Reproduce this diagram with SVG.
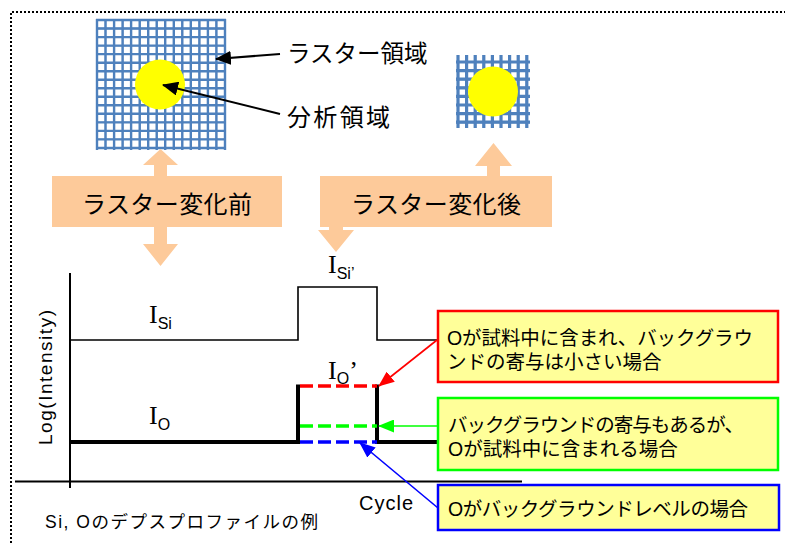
<svg xmlns="http://www.w3.org/2000/svg" width="785" height="543" viewBox="0 0 785 543">
<style>
.jp{font-family:"Liberation Sans","Noto Sans CJK JP",sans-serif;fill:#000}
.lat{font-family:"Liberation Sans",Arial,sans-serif;fill:#000}
.ser{font-family:"Liberation Serif","Times New Roman",serif;fill:#000}
.grid{fill:none;stroke:#4f81bd}
.orange{fill:#fdca9a;stroke:none}
.call{fill:#ffff99;stroke-width:2.5}
.dash{fill:none;stroke-width:3.5;stroke-dasharray:13 5}
</style>
<defs>
<marker id="ah-black" viewBox="0 0 16 14" refX="15" refY="7" markerWidth="16" markerHeight="14" markerUnits="userSpaceOnUse" orient="auto"><path d="M0,0 L16,7 L0,14 Z" fill="#000"/></marker>
<marker id="ah-red" viewBox="0 0 16 13" refX="15" refY="6.5" markerWidth="16" markerHeight="13" markerUnits="userSpaceOnUse" orient="auto"><path d="M0,0 L16,6.5 L0,13 Z" fill="#ff0000"/></marker>
<marker id="ah-green" viewBox="0 0 16 13" refX="15" refY="6.5" markerWidth="16" markerHeight="13" markerUnits="userSpaceOnUse" orient="auto"><path d="M0,0 L16,6.5 L0,13 Z" fill="#00ff00"/></marker>
<marker id="ah-blue" viewBox="0 0 16 13" refX="15" refY="6.5" markerWidth="16" markerHeight="13" markerUnits="userSpaceOnUse" orient="auto"><path d="M0,0 L16,6.5 L0,13 Z" fill="#0000ff"/></marker>
</defs>
<rect width="785" height="543" fill="#fff"/>
<path id="border" d="M11,543 V12 H785" fill="none" stroke="#000" stroke-width="2" stroke-dasharray="2 2"/>

<g id="raster-large">
<path class="grid" stroke-width="2.4" stroke="#dbe5f2" d="M97,19V150M105.5,19V150M114.1,19V150M122.6,19V150M131.1,19V150M139.7,19V150M148.2,19V150M156.7,19V150M165.2,19V150M173.8,19V150M182.3,19V150M190.8,19V150M199.4,19V150M207.9,19V150M216.4,19V150M225,19V150M96,20H226M96,28.5H226M96,37.1H226M96,45.6H226M96,54.1H226M96,62.7H226M96,71.2H226M96,79.7H226M96,88.2H226M96,96.8H226M96,105.3H226M96,113.8H226M96,122.4H226M96,130.9H226M96,139.4H226M96,148H226"/>
<path class="grid" stroke-width="1.3" d="M97,19V150M105.5,19V150M114.1,19V150M122.6,19V150M131.1,19V150M139.7,19V150M148.2,19V150M156.7,19V150M165.2,19V150M173.8,19V150M182.3,19V150M190.8,19V150M199.4,19V150M207.9,19V150M216.4,19V150M225,19V150M96,20H226M96,28.5H226M96,37.1H226M96,45.6H226M96,54.1H226M96,62.7H226M96,71.2H226M96,79.7H226M96,88.2H226M96,96.8H226M96,105.3H226M96,113.8H226M96,122.4H226M96,130.9H226M96,139.4H226M96,148H226"/>
<circle cx="160" cy="84.5" r="25" fill="#ffff00"/>
</g>

<g id="raster-small">
<path class="grid" stroke-width="3.2" stroke="#dbe5f2" d="M458,55V128M466.6,55V128M475.2,55V128M483.8,55V128M492.4,55V128M501,55V128M509.6,55V128M518.2,55V128M526.8,55V128M456,62H530M456,70.6H530M456,79.2H530M456,87.8H530M456,96.4H530M456,105H530M456,113.6H530M456,122.2H530"/>
<path class="grid" stroke-width="1.9" d="M458,55V128M466.6,55V128M475.2,55V128M483.8,55V128M492.4,55V128M501,55V128M509.6,55V128M518.2,55V128M526.8,55V128M456,62H530M456,70.6H530M456,79.2H530M456,87.8H530M456,96.4H530M456,105H530M456,113.6H530M456,122.2H530"/>
<circle cx="493" cy="91.5" r="25" fill="#ffff00"/>
</g>

<g id="label-raster"><text class="jp" x="287" y="62" font-size="23.5">ラスター領域</text></g>
<g id="label-analysis"><text class="jp" x="287" y="126" font-size="24" textLength="103">分析領域</text></g>

<g id="before">
<path class="orange" d="M52,176 H154 V165 H143 L160.5,149 L178,165 H167 V176 H282 V227 H167 V244 H178 L160.5,266 L143,244 H154 V227 H52 Z"/>
<text class="jp" x="167" y="213" font-size="24" text-anchor="middle" textLength="170">ラスター変化前</text>
</g>
<g id="after">
<path class="orange" d="M320,176 H487 V166 H475 L493.5,143 L512,166 H500 V176 H552 V227 H343 V230 H354 L336,252 L318,230 H329 V227 H320 Z"/>
<text class="jp" x="436" y="213" font-size="24" text-anchor="middle" textLength="170">ラスター変化後</text>
</g>

<g id="axes" stroke="#000" fill="none">
<path d="M70,273 V488" stroke-width="2"/>
<path d="M15,481.5 H522" stroke-width="2"/>
<text class="lat" stroke="none" transform="translate(52,445) rotate(-90)" font-size="19" textLength="135">Log(Intensity)</text>
<text class="lat" stroke="none" x="359" y="510" font-size="20" textLength="54">Cycle</text>
<text class="jp" stroke="none" x="45" y="528" font-size="17.5" textLength="273">Si, Oのデプスプロファイルの例</text>
</g>

<g id="si-profile">
<path d="M70,340 H298 V287 H377 V340 H437" fill="none" stroke="#000" stroke-width="1.6"/>
<text class="ser" x="149" y="323" font-size="26">I<tspan class="lat" font-size="16" dy="6">Si</tspan></text>
<text class="ser" x="328" y="273" font-size="26">I<tspan class="lat" font-size="16" dy="6">Si’</tspan></text>
</g>

<g id="o-profile">
<path d="M70,442 H298 V384.5 M377,384.5 V442 H437" fill="none" stroke="#000" stroke-width="4"/>
<path class="dash" d="M300,386 H377" stroke="#ff0000"/>
<path class="dash" d="M300,426 H377" stroke="#00ff00"/>
<path class="dash" d="M300,442 H377" stroke="#0000ff"/>
<text class="ser" x="149" y="424" font-size="26">I<tspan class="lat" font-size="16" dy="6">O</tspan></text>
<text class="ser" x="328" y="379" font-size="26">I<tspan class="lat" font-size="16" dy="5">O</tspan><tspan dy="-5">’</tspan></text>
</g>

<g id="callout-red">
<rect class="call" x="438" y="311" width="340" height="71" stroke="#ff0000"/>
<text class="jp" x="447" y="345" font-size="19.5" textLength="306">Oが試料中に含まれ、バックグラウ</text>
<text class="jp" x="447" y="369" font-size="19.5">ンドの寄与は小さい場合</text>
</g>
<g id="callout-green">
<rect class="call" x="438" y="398" width="340" height="72" stroke="#00ff00"/>
<text class="jp" x="448" y="432" font-size="19.5" textLength="296">バックグラウンドの寄与もあるが、</text>
<text class="jp" x="448" y="456" font-size="19.5">Oが試料中に含まれる場合</text>
</g>
<g id="callout-blue">
<rect class="call" x="438" y="485" width="341" height="45" stroke="#0000ff"/>
<text class="jp" x="448" y="516" font-size="19.5" textLength="300">Oがバックグラウンドレベルの場合</text>
</g>

<g id="connectors" fill="none">
<path d="M280,54 L216,59" stroke="#000" stroke-width="2" marker-end="url(#ah-black)"/>
<path d="M280,114 L163,85" stroke="#000" stroke-width="2" marker-end="url(#ah-black)"/>
<path d="M437,340 L379,386" stroke="#ff0000" stroke-width="1.6" marker-end="url(#ah-red)"/>
<path d="M437,426 L379,426" stroke="#00ff00" stroke-width="1.6" marker-end="url(#ah-green)"/>
<path d="M438,508 L360,443" stroke="#0000ff" stroke-width="1.6" marker-end="url(#ah-blue)"/>
</g>
</svg>
